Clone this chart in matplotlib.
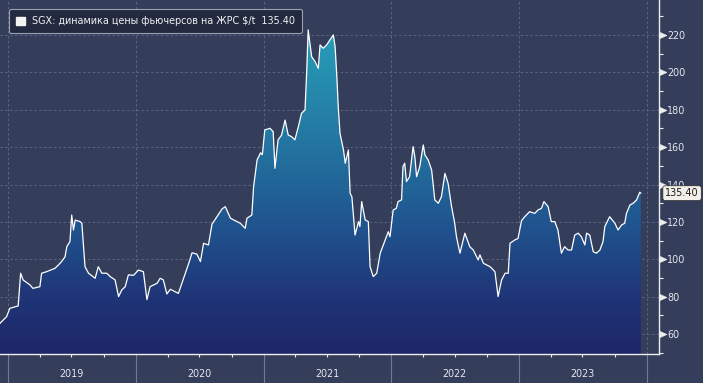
import numpy as np
import matplotlib
matplotlib.use('Agg')
import matplotlib.pyplot as plt
import matplotlib.dates as mdates
from matplotlib.colors import LinearSegmentedColormap
from matplotlib.patches import Patch
from matplotlib.path import Path
from matplotlib.markers import MarkerStyle
from matplotlib.ticker import FixedLocator, FuncFormatter, NullFormatter

# ---------------- data ----------------
dates = [
    '2018-12-09', '2018-12-28', '2019-01-06', '2019-01-30', '2019-02-06', '2019-02-13',
    '2019-03-05', '2019-03-13', '2019-04-02', '2019-04-07', '2019-04-21', '2019-05-15',
    '2019-05-25', '2019-06-03', '2019-06-13', '2019-06-18', '2019-06-27', '2019-07-02',
    '2019-07-07', '2019-07-12', '2019-07-26', '2019-07-31', '2019-08-09', '2019-08-19',
    '2019-09-07', '2019-09-16', '2019-09-26', '2019-10-10', '2019-10-20', '2019-11-03',
    '2019-11-13', '2019-11-22', '2019-12-02', '2019-12-11', '2019-12-26', '2020-01-09',
    '2020-01-23', '2020-02-02', '2020-02-11', '2020-03-02', '2020-03-11', '2020-03-20',
    '2020-03-30', '2020-04-09', '2020-05-02', '2020-05-12', '2020-05-22', '2020-06-01',
    '2020-06-10', '2020-06-24', '2020-07-04', '2020-07-13', '2020-07-27', '2020-08-06',
    '2020-08-20', '2020-09-04', '2020-09-13', '2020-09-28', '2020-10-07', '2020-10-26',
    '2020-11-09', '2020-11-14', '2020-11-28', '2020-12-03', '2020-12-13', '2020-12-23',
    '2020-12-28', '2021-01-04', '2021-01-19', '2021-01-28', '2021-02-02', '2021-02-11',
    '2021-02-21', '2021-03-03', '2021-03-12', '2021-03-22', '2021-03-31', '2021-04-10',
    '2021-04-19', '2021-04-29', '2021-05-04', '2021-05-08', '2021-05-18', '2021-05-28',
    '2021-06-06', '2021-06-11', '2021-06-20', '2021-06-30', '2021-07-09', '2021-07-19',
    '2021-07-24', '2021-07-29', '2021-08-02', '2021-08-07', '2021-08-17', '2021-08-22',
    '2021-08-31', '2021-09-05', '2021-09-10', '2021-09-19', '2021-09-29', '2021-10-03',
    '2021-10-08', '2021-10-18', '2021-10-27', '2021-11-01', '2021-11-10', '2021-11-20',
    '2021-11-30', '2021-12-14', '2021-12-23', '2021-12-28', '2022-01-06', '2022-01-15',
    '2022-01-20', '2022-01-30', '2022-02-03', '2022-02-08', '2022-02-13', '2022-02-22',
    '2022-03-04', '2022-03-09', '2022-03-14', '2022-03-23', '2022-04-02', '2022-04-07',
    '2022-04-16', '2022-04-26', '2022-05-05', '2022-05-15', '2022-05-24', '2022-06-03',
    '2022-06-12', '2022-06-22', '2022-07-01', '2022-07-06', '2022-07-16', '2022-07-30',
    '2022-08-13', '2022-08-23', '2022-09-06', '2022-09-11', '2022-09-21', '2022-10-10',
    '2022-10-24', '2022-11-02', '2022-11-12', '2022-11-22', '2022-12-01', '2022-12-06',
    '2022-12-20', '2022-12-29', '2023-01-08', '2023-01-17', '2023-01-31', '2023-02-15',
    '2023-02-24', '2023-03-06', '2023-03-13', '2023-03-25', '2023-04-03', '2023-04-13',
    '2023-04-22', '2023-05-02', '2023-05-11', '2023-05-21', '2023-05-31', '2023-06-09',
    '2023-06-19', '2023-06-28', '2023-07-08', '2023-07-13', '2023-07-22', '2023-08-01',
    '2023-08-10', '2023-08-20', '2023-08-29', '2023-09-03', '2023-09-17', '2023-10-02',
    '2023-10-11', '2023-10-21', '2023-10-30', '2023-11-04', '2023-11-14', '2023-11-23',
    '2023-12-03', '2023-12-12', '2023-12-15',
]
prices = [
    65.8, 69.4, 73.8, 75.1, 92.6, 89.0,
    86.3, 84.5, 85.4, 92.6, 93.4, 95.2,
    97.0, 98.8, 101.4, 106.8, 109.5, 123.7,
    115.7, 121.0, 120.2, 119.3, 96.1, 92.6,
    89.9, 96.1, 92.6, 92.6, 90.8, 89.0,
    80.1, 83.6, 85.4, 91.7, 91.5, 94.3,
    93.4, 78.5, 85.4, 87.2, 89.9, 89.0,
    81.5, 84.0, 81.8, 87.2, 92.6, 98.1,
    103.5, 102.8, 98.8, 108.6, 107.7, 118.8,
    122.8, 127.0, 128.2, 122.0, 121.1, 119.3,
    116.6, 122.0, 123.7, 138.9, 153.2, 157.0,
    156.0, 169.2, 170.1, 168.3, 148.7, 163.9,
    166.5, 174.5, 166.5, 165.6, 163.9, 171.0,
    178.1, 179.9, 201.3, 222.7, 208.4, 205.7,
    202.2, 214.7, 212.9, 214.7, 217.3, 220.0,
    213.8, 197.7, 181.7, 167.4, 158.5, 151.4,
    158.5, 135.3, 133.5, 113.0, 120.2, 117.5,
    130.9, 121.1, 120.2, 96.1, 90.8, 92.6,
    103.3, 110.4, 114.8, 112.1, 126.4, 127.3,
    130.9, 131.8, 149.6, 151.4, 141.6, 144.2,
    160.3, 154.9, 144.2, 149.6, 161.2, 155.8,
    153.2, 147.8, 131.8, 130.0, 133.5, 146.0,
    140.7, 128.2, 119.3, 112.1, 103.3, 114.0,
    106.8, 105.0, 99.7, 102.4, 97.9, 96.1,
    93.4, 80.1, 89.0, 92.6, 92.6, 108.6,
    110.4, 111.2, 120.7, 122.8, 125.5, 124.6,
    126.4, 127.3, 130.9, 128.2, 120.2, 120.2,
    115.7, 103.3, 106.8, 105.0, 105.0, 113.0,
    114.0, 112.1, 107.7, 114.0, 113.0, 104.1,
    103.3, 105.0, 109.5, 117.5, 122.8, 119.3,
    115.7, 118.4, 119.3, 124.6, 129.1, 130.0,
    131.8, 135.9, 135.4,
]
y_ticks = [60, 80, 100, 120, 140, 160, 180, 200, 220]
y_minor_ticks = [50, 70, 90, 110, 130, 150, 170, 190, 210, 230]
title = "SGX: динамика цены фьючерсов на ЖРС $/t"
last_value = 135.40
last_value_label = "135.40"

# ---------------- style ----------------
BG = '#343e5b'
GRID = '#5b6685'
SEP = '#717a94'
FS = 6.9
plt.rcParams['font.family'] = ['DejaVu Sans']

fig = plt.figure(figsize=(7.03, 3.83), dpi=100, facecolor=BG)
ax = fig.add_axes([0, 29 / 383, 659 / 703, 354 / 383])
ax.set_facecolor(BG)

x = np.array(dates, dtype='datetime64[D]')
y = np.array(prices)

xmin, xmax = np.datetime64('2018-12-09'), np.datetime64('2024-02-05')
ymin, ymax = 49.4, 238.7

# gradient area fill
cmap = LinearSegmentedColormap.from_list('fill', [
    (0.00, '#1e2768'),
    (0.16, '#1f3577'),
    (0.37, '#205590'),
    (0.58, '#2373a0'),
    (0.80, '#2690b0'),
    (1.00, '#2ba5be'),
])
poly = ax.fill_between(x, y, ymin, facecolor='none', edgecolor='none')
nx0, nx1 = mdates.date2num(xmin), mdates.date2num(xmax)
grad = np.linspace(0, 1, 256).reshape(-1, 1)
im = ax.imshow(grad, cmap=cmap, extent=[nx0, nx1, ymin, ymax], origin='lower',
               aspect='auto', zorder=1, interpolation='bilinear')
im.set_clip_path(poly.get_paths()[0], transform=ax.transData)

ax.plot(x, y, color='white', lw=0.9, zorder=3)

ax.set_xlim(xmin, xmax)
ax.set_ylim(ymin, ymax)

# spines
for s in ['top', 'left']:
    ax.spines[s].set_visible(False)
for s in ['bottom', 'right']:
    ax.spines[s].set_color('#eeeeee')
    ax.spines[s].set_linewidth(1.0)

# x axis
ax.xaxis.set_major_locator(mdates.YearLocator())
ax.xaxis.set_major_formatter(NullFormatter())
ax.xaxis.set_minor_locator(mdates.MonthLocator(bymonth=[4, 7, 10]))
ax.xaxis.set_minor_formatter(FuncFormatter(
    lambda v, p: mdates.num2date(v).strftime('%Y') if mdates.num2date(v).month == 7 else ''))
ax.tick_params(axis='x', which='major', length=21, width=0.8, color=SEP, direction='out')
ax.tick_params(axis='x', which='minor', length=2.5, width=0.8, color='#eeeeee',
               direction='out', labelsize=FS, labelcolor='#e6e8ee', pad=8)

# y axis
ax.yaxis.tick_right()
ax.yaxis.set_major_locator(FixedLocator(y_ticks))
ax.yaxis.set_minor_locator(FixedLocator(y_minor_ticks))
ax.tick_params(axis='y', which='major', length=10, width=0.5, color='#eeeeee',
               direction='out', labelsize=FS, labelcolor='#e6e8ee', pad=-4)
ax.tick_params(axis='y', which='minor', length=3, width=0.8, color='#eeeeee', direction='out')
tri = Path([(0, -0.45), (1, 0), (0, 0.45), (0, -0.45)],
           [Path.MOVETO, Path.LINETO, Path.LINETO, Path.CLOSEPOLY])
for t in ax.yaxis.get_major_ticks():
    t.tick2line.set_marker(MarkerStyle(tri))
    t.tick2line.set_markersize(10.5)
    t.tick2line.set_markerfacecolor('#eeeeee')

ax.grid(True, which='major', axis='both', color=GRID, linestyle=(0, (2.5, 2.5)), linewidth=0.7)
ax.set_axisbelow(True)

# last value tag
ax.annotate(last_value_label, xy=(1, last_value), xycoords=('axes fraction', 'data'),
            xytext=(4.5, 0), textcoords='offset points', ha='left', va='center',
            fontsize=FS, color='#1a1a1a', annotation_clip=False, zorder=10,
            bbox=dict(boxstyle='round,pad=0.25', fc='#f3f0ea', ec='#2a2a2a', lw=0.5))

# legend
leg = ax.legend(handles=[Patch(facecolor='#f2f2f2', edgecolor='#f2f2f2')],
                labels=[f"{title}  {last_value_label}"],
                loc='upper left', bbox_to_anchor=(9 / 659, 1 - 9 / 354),
                borderaxespad=0, fontsize=FS, frameon=True, fancybox=True,
                facecolor='#232a40', edgecolor='#9aa1b2', framealpha=1,
                handlelength=0.95, handleheight=0.95, handletextpad=0.7,
                borderpad=0.75, labelcolor='#f0f0f0')
leg.get_frame().set_linewidth(0.8)

fig.savefig('out.png', dpi=100, facecolor=BG)
